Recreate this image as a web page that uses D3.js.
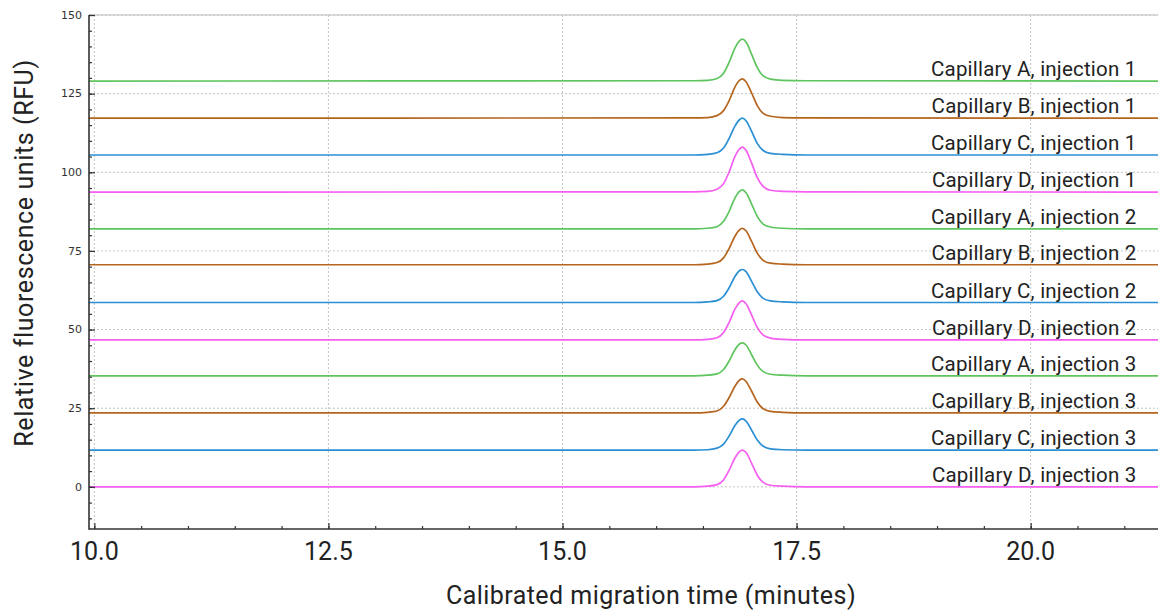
<!DOCTYPE html>
<html>
<head>
<meta charset="utf-8">
<script src="https://cdn.jsdelivr.net/npm/d3@7"></script>
<style>
  html, body { margin: 0; padding: 0; background: #fff; }
  svg { display: block; }
  text { font-family: Roboto, "Noto Sans", sans-serif; fill: #222; }
</style>
</head>
<body>
<svg id="chart" width="1158" height="611"></svg>
<script>
// Electropherogram traces: 4 capillaries x 3 injections, each offset vertically.
const traceNames = [
  "Capillary A, injection 1", "Capillary B, injection 1", "Capillary C, injection 1", "Capillary D, injection 1",
  "Capillary A, injection 2", "Capillary B, injection 2", "Capillary C, injection 2", "Capillary D, injection 2",
  "Capillary A, injection 3", "Capillary B, injection 3", "Capillary C, injection 3", "Capillary D, injection 3"
];
const capillaryColors = { A: "#5ec55e", B: "#b5651e", C: "#2b8fd4", D: "#f55ef0" };

// Sample times (minutes) shared by every trace
const times = [9.94, 16.40, 16.55, 16.65, 16.72, 16.78, 16.84, 16.89, 16.92, 16.96, 17.02, 17.08, 17.14, 17.22, 17.35, 17.60, 21.40];

// Signal (RFU, including vertical offset) for each trace at the times above
const traceA1 = [129.0, 129.1, 129.2, 129.8, 131.5, 135.0, 139.4, 141.8, 142.3, 141.4, 137.5, 133.3, 130.7, 129.6, 129.2, 129.1, 129.0];
const traceB1 = [117.2, 117.3, 117.4, 118.0, 119.6, 122.8, 127.0, 129.2, 129.7, 128.8, 125.2, 121.2, 118.8, 117.8, 117.4, 117.3, 117.2];
const traceC1 = [105.5, 105.5, 105.7, 106.2, 107.7, 110.8, 114.6, 116.7, 117.2, 116.4, 113.0, 109.2, 107.0, 106.0, 105.7, 105.5, 105.5];
const traceD1 = [93.7, 93.8, 93.9, 94.6, 96.4, 100.1, 104.9, 107.4, 108.0, 107.0, 102.9, 98.3, 95.6, 94.3, 93.9, 93.8, 93.7];
const traceA2 = [82.0, 82.0, 82.2, 82.7, 84.4, 87.6, 91.7, 93.9, 94.4, 93.5, 89.9, 86.0, 83.6, 82.6, 82.2, 82.0, 82.0];
const traceB2 = [70.6, 70.6, 70.8, 71.3, 72.8, 75.8, 79.6, 81.7, 82.2, 81.4, 78.0, 74.3, 72.1, 71.1, 70.8, 70.6, 70.6];
const traceC2 = [58.6, 58.6, 58.8, 59.2, 60.6, 63.3, 66.8, 68.7, 69.1, 68.4, 65.3, 62.0, 60.0, 59.1, 58.8, 58.6, 58.6];
const traceD2 = [46.7, 46.7, 46.9, 47.4, 49.1, 52.3, 56.4, 58.6, 59.1, 58.2, 54.6, 50.7, 48.3, 47.3, 46.9, 46.7, 46.7];
const traceA3 = [35.3, 35.3, 35.5, 35.9, 37.3, 40.0, 43.5, 45.4, 45.8, 45.1, 42.0, 38.7, 36.7, 35.8, 35.5, 35.3, 35.3];
const traceB3 = [23.5, 23.5, 23.7, 24.1, 25.6, 28.4, 31.9, 33.9, 34.3, 33.5, 30.4, 27.0, 24.9, 24.0, 23.7, 23.5, 23.5];
const traceC3 = [11.7, 11.7, 11.8, 12.3, 13.6, 16.2, 19.4, 21.2, 21.6, 20.9, 18.0, 14.9, 13.0, 12.1, 11.8, 11.7, 11.7];
const traceD3 = [0.0, 0.0, 0.2, 0.7, 2.2, 5.3, 9.1, 11.2, 11.7, 10.9, 7.5, 3.7, 1.5, 0.5, 0.2, 0.0, 0.0];

const traceValues = [traceA1, traceB1, traceC1, traceD1, traceA2, traceB2, traceC2, traceD2, traceA3, traceB3, traceC3, traceD3];

// Axis ticks
const xMajorTicks = [10.0, 12.5, 15.0, 17.5, 20.0];
const yMajorTicks = [0, 25, 50, 75, 100, 125, 150];
const labelTime = 21.13;

const svg = d3.select("#chart");
const plotLeft = 89, plotRight = 1158, plotTop = 15, plotBottom = 529;

const x = d3.scaleLinear().domain([9.943, 21.36]).range([plotLeft, plotRight]);
const y = d3.scaleLinear().domain([-13.4, 150]).range([plotBottom, plotTop]);

const xMinor = d3.range(10, 21.01, 0.5);
const yMinor = d3.range(-10, 150.01, 5);

svg.append("defs").append("clipPath").attr("id", "plotClip")
  .append("rect").attr("x", plotLeft).attr("y", plotTop - 2)
  .attr("width", plotRight - plotLeft).attr("height", plotBottom - plotTop + 2);

// Grid
const grid = svg.append("g").attr("stroke", "#c4c4c4").attr("stroke-width", 1).attr("stroke-dasharray", "2,2");
grid.selectAll("line.gx").data(xMajorTicks).join("line").attr("class", "gx")
  .attr("x1", d => x(d)).attr("x2", d => x(d)).attr("y1", plotTop).attr("y2", plotBottom);
grid.selectAll("line.gy").data(yMajorTicks).join("line").attr("class", "gy")
  .attr("x1", plotLeft).attr("x2", plotRight).attr("y1", d => y(d)).attr("y2", d => y(d));

// Top frame line
svg.append("line").attr("x1", plotLeft).attr("x2", plotRight).attr("y1", plotTop).attr("y2", plotTop)
  .attr("stroke", "#bdbdbd").attr("stroke-width", 1.2);

// Traces
const line = d3.line().x(d => x(d[0])).y(d => y(d[1])).curve(d3.curveMonotoneX);
const traces = svg.append("g").attr("clip-path", "url(#plotClip)");
traceValues.forEach((vals, i) => {
  const cap = traceNames[i].charAt(10);
  traces.append("path")
    .datum(times.map((t, j) => [t, vals[j]]))
    .attr("fill", "none")
    .attr("stroke", capillaryColors[cap])
    .attr("stroke-width", 1.7)
    .attr("d", line);
});

// Trace labels
const labels = svg.append("g");
traceValues.forEach((vals, i) => {
  labels.append("text")
    .attr("x", x(labelTime))
    .attr("y", y(vals[0]) - 5)
    .attr("text-anchor", "end")
    .attr("font-size", 20.5)
    .style("letter-spacing", "0.2px")
    .text(traceNames[i]);
});

// Axes (ticks point inward)
const xAxisG = svg.append("g").attr("transform", `translate(0,${plotBottom})`);
xAxisG.append("g").call(d3.axisTop(x).tickValues(xMinor).tickSize(3).tickFormat(""))
  .call(g => g.select(".domain").remove());
xAxisG.append("g").call(d3.axisTop(x).tickValues(xMajorTicks).tickSize(6).tickFormat(""))
  .call(g => g.select(".domain").remove());
xAxisG.selectAll(".tick line").attr("stroke", "#333").attr("stroke-width", 1.2);
xAxisG.append("line").attr("x1", plotLeft).attr("x2", plotRight).attr("stroke", "#333").attr("stroke-width", 1.6);
xAxisG.selectAll("text.xt").data(xMajorTicks).join("text")
  .attr("class", "xt")
  .attr("x", d => x(d)).attr("y", 31)
  .attr("text-anchor", "middle")
  .attr("font-size", 25)
  .text(d3.format(".1f"));

const yAxisG = svg.append("g").attr("transform", `translate(${plotLeft},0)`);
yAxisG.append("g").call(d3.axisRight(y).tickValues(yMinor).tickSize(3).tickFormat(""))
  .call(g => g.select(".domain").remove());
yAxisG.append("g").call(d3.axisRight(y).tickValues(yMajorTicks).tickSize(6).tickFormat(""))
  .call(g => g.select(".domain").remove());
yAxisG.selectAll(".tick line").attr("stroke", "#333").attr("stroke-width", 1.2);
yAxisG.append("line").attr("y1", plotTop).attr("y2", plotBottom + 0.8).attr("stroke", "#333").attr("stroke-width", 1.6);
yAxisG.selectAll("text.yt").data(yMajorTicks).join("text")
  .attr("class", "yt")
  .attr("x", -7).attr("y", d => y(d)).attr("dy", "0.35em")
  .attr("text-anchor", "end")
  .style("font-family", "'DejaVu Sans', sans-serif")
  .attr("font-size", 11)
  .style("fill", "#333")
  .text(d => d);

// Axis titles
svg.append("text")
  .attr("x", 651).attr("y", 604)
  .attr("text-anchor", "middle")
  .attr("font-size", 25)
  .style("letter-spacing", "0.45px")
  .text("Calibrated migration time (minutes)");

svg.append("text")
  .attr("transform", "translate(33,253) rotate(-90)")
  .attr("text-anchor", "middle")
  .attr("font-size", 25)
  .style("letter-spacing", "0.6px")
  .text("Relative fluorescence units (RFU)");
</script>
</body>
</html>
